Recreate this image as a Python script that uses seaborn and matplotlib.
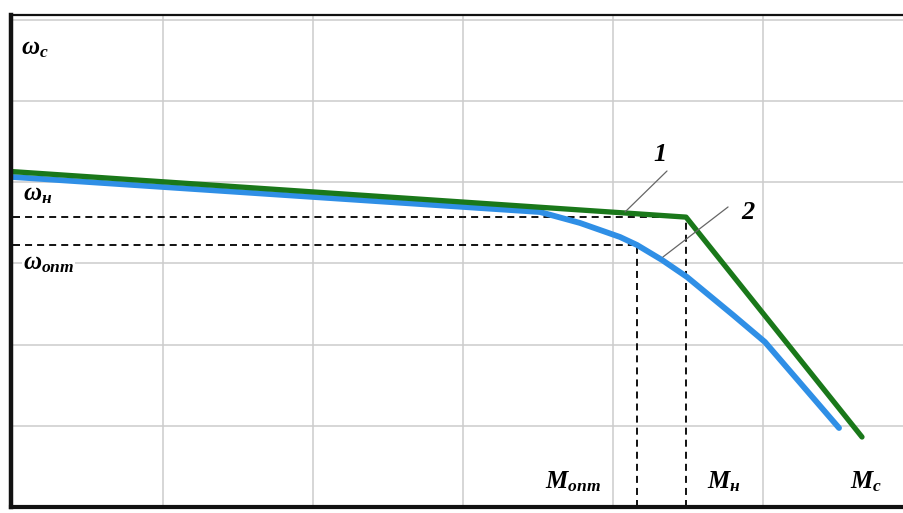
import matplotlib
matplotlib.use("Agg")
import matplotlib.pyplot as plt
import seaborn as sns
import pandas as pd

# curve 1 (green) - ideal characteristic
m1 = [0.0, 4.487, 5.66]
w1 = [4.13, 3.57, 0.862]

# curve 2 (blue) - real characteristic
m2 = [0.0, 3.513, 3.78, 4.047, 4.16, 4.327, 4.493, 4.8, 5.013, 5.507]
w2 = [4.064, 3.633, 3.498, 3.325, 3.227, 3.042, 2.833, 2.365, 2.032, 0.973]

# operating points
m_opt, w_opt = 4.16, 3.23
m_nom, w_nom = 4.487, 3.57

# labels (last flag: white background to hide the grid behind)
axis_labels = [r"$\omega_c$", r"$\omega_н$", r"$\omega_{опт}$",
               r"$M_{опт}$", r"$M_н$", r"$M_c$"]
label_x = [0.053, 0.067, 0.067, 3.547, 4.627, 5.58]
label_y = [5.57, 3.78, 2.92, 0.234, 0.234, 0.234]
label_box = [False, False, True, True, False, False]

curve_names = ["1", "2"]
name_xy = [(4.313, 4.335), (4.9, 3.633)]
leader_start = [(4.36, 4.138), (4.767, 3.695)]
leader_end = [(4.08, 3.633), (4.333, 3.079)]

sns.set_style("white")
plt.rcParams["mathtext.fontset"] = "custom"
plt.rcParams["mathtext.it"] = "Liberation Serif:italic:bold"
plt.rcParams["mathtext.rm"] = "Liberation Serif:bold"
plt.rcParams["mathtext.bf"] = "Liberation Serif:bold"

fig = plt.figure(figsize=(9.04, 5.13), dpi=100)
ax = fig.add_axes([11 / 904, 6 / 513, 893 / 904, 492 / 513])

ax.set_xlim(-2 / 150, 891 / 150)
ax.set_ylim(0, 492 / 81.2)
ax.set_xticks([1, 2, 3, 4, 5])
ax.set_yticks([1, 2, 3, 4, 5, 6])
ax.grid(True, color="#cccccc", linewidth=1.1)
ax.tick_params(length=0, labelbottom=False, labelleft=False)
ax.set_axisbelow(True)

for side, lw in [("left", 3.2), ("bottom", 3.0), ("top", 1.6)]:
    ax.spines[side].set_color("#111111")
    ax.spines[side].set_linewidth(lw)
ax.spines["right"].set_visible(False)

# dashed guide lines
dash = dict(color="#111111", linewidth=1.4, linestyle=(0, (3.6, 2.6)))
ax.plot([0, m_nom], [w_nom, w_nom], **dash)
ax.plot([0, m_opt], [w_opt, w_opt], **dash)
ax.plot([m_opt, m_opt], [0, w_opt], **dash)
ax.plot([m_nom, m_nom], [0, w_nom], **dash)

df1 = pd.DataFrame({"M": m1, "w": w1})
df2 = pd.DataFrame({"M": m2, "w": w2})
sns.lineplot(data=df2, x="M", y="w", sort=False, estimator=None, ax=ax,
             color="#2f8fe6", linewidth=4.2, solid_capstyle="round",
             solid_joinstyle="round")
sns.lineplot(data=df1, x="M", y="w", sort=False, estimator=None, ax=ax,
             color="#1a781a", linewidth=3.8, solid_capstyle="round")
ax.set_xlabel("")
ax.set_ylabel("")

for (x0, y0), (x1, y1) in zip(leader_start, leader_end):
    ax.plot([x0, x1], [y0, y1], color="#666666", linewidth=0.9)

for txt, x, y, box in zip(axis_labels, label_x, label_y, label_box):
    bbox = dict(facecolor="white", edgecolor="none", pad=0.5) if box else None
    ax.text(x, y, txt, fontsize=18, color="black", ha="left", va="baseline",
            bbox=bbox)

for txt, (x, y) in zip(curve_names, name_xy):
    ax.text(x, y, txt, fontsize=19, color="black", ha="center", va="center",
            family="Liberation Serif", fontweight="bold", fontstyle="italic")

fig.savefig("out.png", dpi=100)
